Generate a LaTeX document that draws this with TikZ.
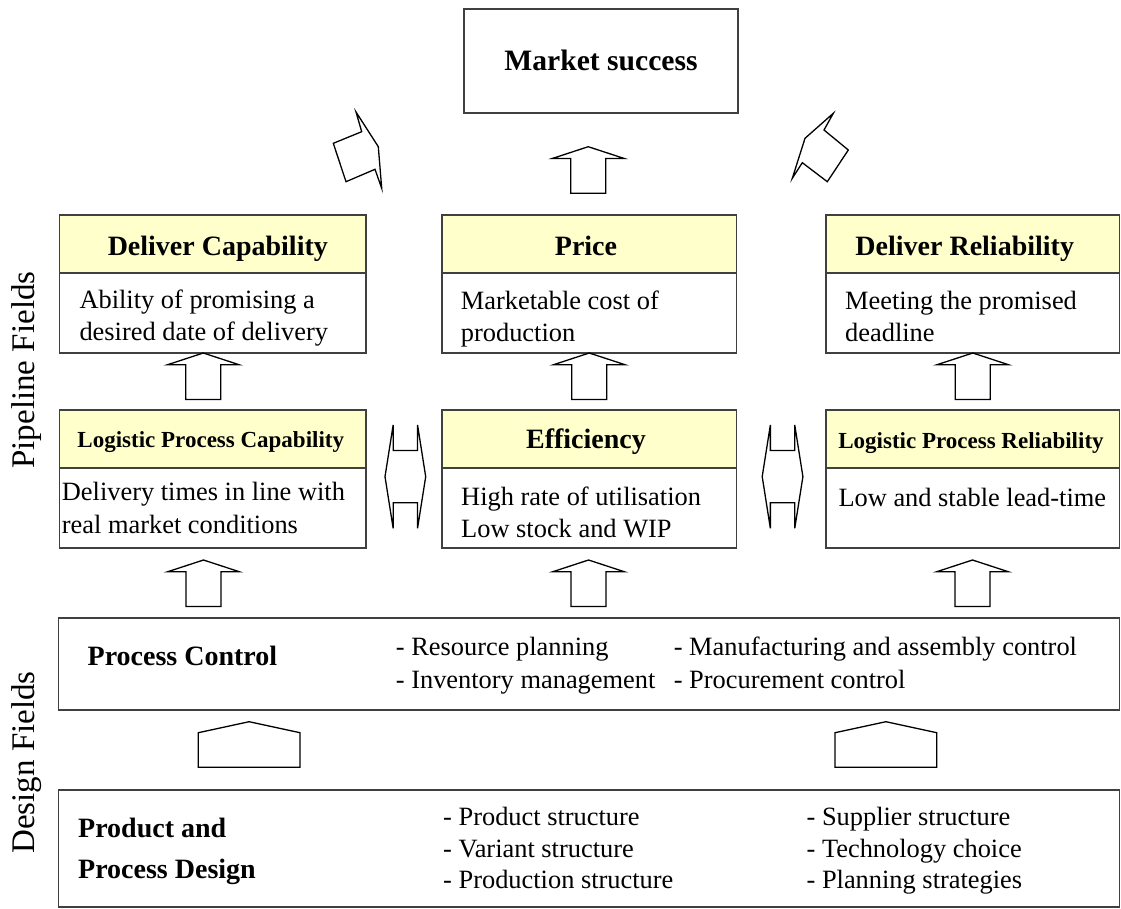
\documentclass[tikz,border=0pt]{standalone}
\usepackage{fontspec}
\setmainfont{Liberation Serif}
\definecolor{hdr}{HTML}{FFFFCC}
\definecolor{bord}{HTML}{404040}
\tikzset{
  box/.style={draw=bord,line width=1.8pt,rectangle,inner sep=0pt,outer sep=0pt},
  hbox/.style={box,fill=hdr},
  blk/.style={draw=black,line width=1.3pt,line join=miter},
  body/.style={font=\fontsize{26.4}{31.7}\selectfont,inner sep=0pt,anchor=base west},
  htxt/.style={font=\fontsize{28}{33}\selectfont\bfseries,inner sep=0pt,anchor=base},
  hstxt/.style={font=\fontsize{23}{27}\selectfont\bfseries,inner sep=0pt,anchor=base},
  side/.style={font=\fontsize{33}{38}\selectfont,inner sep=0pt,anchor=base,rotate=90},
  uparr/.pic={\draw[blk] (0,0) -- (35.7,11.7) -- (17.5,11.7) -- (17.5,46.5) -- (-17.5,46.5) -- (-17.5,11.7) -- (-35.7,11.7) -- cycle;},
  dblarr/.pic={\draw[blk] (-12.2,-51.65) -- (-12.2,-26.15) -- (12.2,-26.15) -- (12.2,-51.65) -- (20.35,0) -- (12.2,51.65) -- (12.2,26.15) -- (-12.2,26.15) -- (-12.2,51.65) -- (-20.35,0) -- cycle;},
  penta/.pic={\draw[blk] (-50.85,0) -- (50.85,0) -- (50.85,-34.6) -- (0,-45.6) -- (-50.85,-34.6) -- cycle;}
}
\begin{document}
\begin{tikzpicture}[x=1pt,y=-1pt]
\useasboundingbox[fill=white] (0,0) rectangle (1121,908);

% side labels
\node[side] (pf) at (34.5,370) {Pipeline Fields};
\node[side] (dfl) at (34.5,762.5) {Design Fields};

% market success
\node[box,minimum width=274pt,minimum height=103.7pt,font=\fontsize{29.6}{34}\selectfont\bfseries] (ms) at (601,60.85) {Market success};

% row 1
\node[box,minimum width=306.5pt,minimum height=138pt] (dc) at (212.75,284) {};
\node[hbox,minimum width=306.5pt,minimum height=58pt] (dch) at (212.75,244) {};
\node[htxt] (dct) at (217.8,255) {Deliver Capability};
\node[body] (dcb1) at (79.3,308) {Ability of promising a};
\node[body] (dcb2) at (79.3,340) {desired date of delivery};

\node[box,minimum width=294.5pt,minimum height=138pt] (pr) at (589.25,284) {};
\node[hbox,minimum width=294.5pt,minimum height=58pt] (prh) at (589.25,244) {};
\node[htxt] (prt) at (586,255) {Price};
\node[body] (prb1) at (460.7,309) {Marketable cost of};
\node[body] (prb2) at (460.7,341) {production};

\node[box,minimum width=293.5pt,minimum height=138pt] (dr) at (972.75,284) {};
\node[hbox,minimum width=293.5pt,minimum height=58pt] (drh) at (972.75,244) {};
\node[htxt] (drt) at (964.7,255) {Deliver Reliability};
\node[body] (drb1) at (845,309) {Meeting the promised};
\node[body] (drb2) at (845,341) {deadline};

% row 2
\node[box,minimum width=306.5pt,minimum height=138pt] (lpc) at (212.75,479) {};
\node[hbox,minimum width=306.5pt,minimum height=58pt] (lpch) at (212.75,439) {};
\node[hstxt] (lpct) at (210.8,447) {Logistic Process Capability};
\node[body] (lpcb1) at (61.7,500) {Delivery times in line with};
\node[body] (lpcb2) at (61.7,533) {real market conditions};

\node[box,minimum width=294.5pt,minimum height=138pt] (ef) at (589.25,479) {};
\node[hbox,minimum width=294.5pt,minimum height=58pt] (efh) at (589.25,439) {};
\node[htxt] (eft) at (586,448) {Efficiency};
\node[body] (efb1) at (461,505) {High rate of utilisation};
\node[body] (efb2) at (461,537) {Low stock and WIP};

\node[box,minimum width=293.5pt,minimum height=138pt] (lpr) at (972.75,479) {};
\node[hbox,minimum width=293.5pt,minimum height=58pt] (lprh) at (972.75,439) {};
\node[hstxt] (lprt) at (971,448) {Logistic Process Reliability};
\node[body] (lprb1) at (838.3,506) {Low and stable lead-time};

% process control
\node[box,minimum width=1061pt,minimum height=92pt] (pc) at (589,664) {};
\node[htxt,anchor=base west] (pct) at (87.5,665) {Process Control};
\node[body] (pc1) at (395.7,655) {- Resource planning};
\node[body] (pc2) at (395.7,688) {- Inventory management};
\node[body] (pc3) at (673.6,655) {- Manufacturing and assembly control};
\node[body] (pc4) at (673.6,688) {- Procurement control};

% product and process design
\node[box,minimum width=1061pt,minimum height=117pt] (pd) at (589,848.5) {};
\node[htxt,anchor=base west] (pdt1) at (78,837) {Product and};
\node[htxt,anchor=base west] (pdt2) at (78,878) {Process Design};
\node[body] (pd1) at (443,825) {- Product structure};
\node[body] (pd2) at (443,857) {- Variant structure};
\node[body] (pd3) at (443,888) {- Production structure};
\node[body] (pd4) at (806.4,825) {- Supplier structure};
\node[body] (pd5) at (806.4,857) {- Technology choice};
\node[body] (pd6) at (806.4,888) {- Planning strategies};

% block arrows
\pic at ([xshift=-1pt,yshift=68.3pt]pr.north) {uparr};
\pic at ([xshift=-9.45pt]dc.south) {uparr};
\pic at (pr.south) {uparr};
\pic at (dr.south) {uparr};
\pic at ([xshift=-9.25pt,yshift=-12pt]lpc.south) {uparr};
\pic at ([xshift=-0.7pt,yshift=-12pt]ef.south) {uparr};
\pic at ([xshift=-0.25pt,yshift=-12pt]lpr.south) {uparr};
\pic at (405.35,476.65) {dblarr};
\pic at (782.55,476.65) {dblarr};
\pic at (249.15,767.3) {penta};
\pic at (885.9,767.3) {penta};

% diagonal arrows
\draw[blk] (356,112) -- (361.7,131.7) -- (333.3,143.3) -- (346,181.7) -- (375,169.3) -- (381.7,188.3) -- (378.3,146.7) -- cycle;
\draw[blk] (833.3,113.3) -- (824,130) -- (848.3,150) -- (827.3,181.7) -- (802.3,162.7) -- (792.3,178.3) -- (805,138.3) -- cycle;
\end{tikzpicture}
\end{document}
